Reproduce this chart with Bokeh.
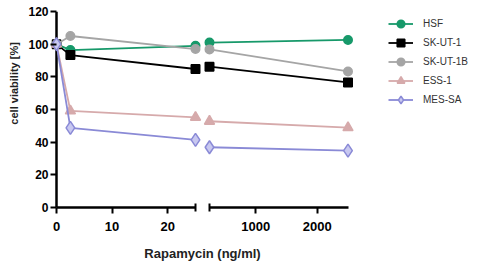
from bokeh.plotting import figure
from bokeh.layouts import row, column
from bokeh.models import Range1d, LinearAxis, FixedTicker, Legend, LegendItem, Span
from bokeh.core.properties import value
from bokeh.embed import file_html
from bokeh.resources import INLINE

# ---- data ----
doses = [0, 2.5, 25, 250, 2500]
series_names = ["HSF", "SK-UT-1", "SK-UT-1B", "ESS-1", "MES-SA"]
hsf = [100, 96.4, 99.0, 101.0, 102.6]
skut1 = [100, 93.3, 84.8, 86.2, 76.6]
skut1b = [100, 105.0, 97.0, 96.8, 83.3]
ess1 = [100, 59.1, 55.2, 52.8, 48.9]
messa = [100, 48.7, 41.4, 36.9, 34.8]
y_ticks = [0, 20, 40, 60, 80, 100, 120]
x_ticks_low = [0, 10, 20]
x_ticks_high = [1000, 2000]
low_seg = (0, 25)
high_seg = (250, 2500)
y_title = "cell viability [%]"
x_title = "Rapamycin (ng/ml)"

FONT = "Liberation Sans"

# ---- geometry (pixels) ----
ROW_H = 240
FT, FB = 11, 207              # frame top / bottom
YLAB_W = 22
LEFT_FL, SPLIT = 51, 202      # left frame left edge, boundary between segments
RIGHT_END = 469
LOW_A, LOW_B = 56, 195        # pixel of 0 and 25
HIGH_A, HIGH_B = 209, 347.5   # pixel of 250 and 2500

k1 = (LOW_B - LOW_A) / (low_seg[1] - low_seg[0])
k2 = (HIGH_B - HIGH_A) / (high_seg[1] - high_seg[0])
lo_range = Range1d(low_seg[0] - (LOW_A - LEFT_FL) / k1, low_seg[0] + (SPLIT - LOW_A) / k1)
hi_range = Range1d(high_seg[0] - (HIGH_A - SPLIT) / k2, high_seg[1] + (RIGHT_END - HIGH_B) / k2)
y_range = Range1d(0, 120)

def base_fig(width, height, x_range, y_range, ml, mr, mt, mb):
    f = figure(width=width, height=height, output_backend="svg", toolbar_location=None,
               x_range=x_range, y_range=y_range, x_axis_type=None, y_axis_type=None,
               min_border_left=ml, min_border_right=mr, min_border_top=mt, min_border_bottom=mb)
    f.outline_line_color = None
    f.xgrid.visible = False
    f.ygrid.visible = False
    return f

def style_axis(ax, size):
    ax.axis_line_width = 2.5
    ax.axis_line_color = "black"
    ax.major_tick_line_width = 2
    ax.minor_tick_line_width = 2
    ax.major_tick_line_color = "black"
    ax.minor_tick_line_color = "black"
    ax.major_tick_in = 0
    ax.major_tick_out = 6
    ax.minor_tick_in = 0
    ax.minor_tick_out = 0
    ax.major_label_text_font = FONT
    ax.major_label_text_font_style = "bold"
    ax.major_label_text_font_size = size
    ax.major_label_text_color = "black"

left_w = SPLIT - YLAB_W
right_w = RIGHT_END - SPLIT
pl = base_fig(left_w, ROW_H, lo_range, y_range, LEFT_FL - YLAB_W, 0, FT, ROW_H - FB)
pr = base_fig(right_w, ROW_H, hi_range, y_range, 0, 0, FT, ROW_H - FB)

# y axis (line drawn at x = 0 as a span so points at 0 are not clipped)
yax = LinearAxis(ticker=FixedTicker(ticks=y_ticks))
style_axis(yax, "12px")
yax.axis_line_color = None
yax.major_tick_in = LOW_A - LEFT_FL
yax.major_tick_out = 1
yax.major_label_standoff = 2
pl.add_layout(yax, "left")
pl.add_layout(Span(location=0, dimension="height", line_color="black", line_width=2.5,
                   level="underlay"))

xax1 = LinearAxis(ticker=FixedTicker(ticks=x_ticks_low, minor_ticks=[low_seg[1]]), bounds=low_seg)
style_axis(xax1, "13px")
xax1.minor_tick_in = 4
xax1.minor_tick_out = 4
xax1.major_label_standoff = 8
pl.add_layout(xax1, "below")

xax2 = LinearAxis(ticker=FixedTicker(ticks=x_ticks_high, minor_ticks=[high_seg[0]]), bounds=high_seg)
style_axis(xax2, "13px")
xax2.minor_tick_in = 4
xax2.minor_tick_out = 4
xax2.major_label_standoff = 8
pr.add_layout(xax2, "below")

styles = [
    dict(data=hsf, color="#17996a", marker="circle", size=8.5, fill="#17996a"),
    dict(data=skut1, color="black", marker="square", size=8.5, fill="black"),
    dict(data=skut1b, color="#a5a5a5", marker="circle", size=8.5, fill="#a5a5a5"),
    dict(data=ess1, color="#d6aaab", marker="triangle", size=10, fill="#d6aaab"),
    dict(data=messa, color="#8a8ad6", marker="diamond", size=13, fill="#c8c8f0"),
]

items = []
for name, st in zip(series_names, styles):
    vals = st["data"]
    lx, ly = doses[:3], vals[:3]
    hx, hy = doses[3:], vals[3:]
    pl.line(lx, ly, line_color=st["color"], line_width=1.8)
    pl.scatter(lx, ly, marker=st["marker"], size=st["size"], fill_color=st["fill"],
               line_color=st["color"], line_width=1.5)
    l2 = pr.line(hx, hy, line_color=st["color"], line_width=1.8)
    s2 = pr.scatter(hx, hy, marker=st["marker"], size=st["size"], fill_color=st["fill"],
                    line_color=st["color"], line_width=1.5)
    items.append(LegendItem(label=name, renderers=[l2, s2]))

legend = Legend(items=items, location=(186, 98.5), orientation="vertical",
                glyph_width=25, glyph_height=19, spacing=0, padding=0, margin=0,
                label_standoff=10, label_text_font=FONT, label_text_font_size="10px",
                label_text_color="#333333", border_line_color=None,
                background_fill_alpha=0)
pr.add_layout(legend, "center")

# y axis title (own narrow strip, pixel coordinates top-down)
py = base_fig(YLAB_W, ROW_H, Range1d(0, YLAB_W), Range1d(ROW_H, 0), 0, 0, 0, 0)
py.text(x=[13], y=[88], text=[y_title], angle=1.5707963, text_align="center",
        text_baseline="middle", text_font=value(FONT), text_font_style="bold",
        text_font_size="11px", text_color="#222222")

# x axis title (own strip under both segments)
XLAB_W, XLAB_H = 2 * SPLIT - 2, 264 - ROW_H
px = base_fig(XLAB_W, XLAB_H, Range1d(0, XLAB_W), Range1d(XLAB_H, 0), 0, 0, 0, 0)
px.text(x=[SPLIT], y=[253 - ROW_H], text=[x_title], text_align="center",
        text_baseline="middle", text_font=value(FONT), text_font_style="bold",
        text_font_size="13px", text_color="#222222")

layout = column(row(py, pl, pr, spacing=0), px, spacing=0)
open("out.html", "w").write(file_html(layout, INLINE))
